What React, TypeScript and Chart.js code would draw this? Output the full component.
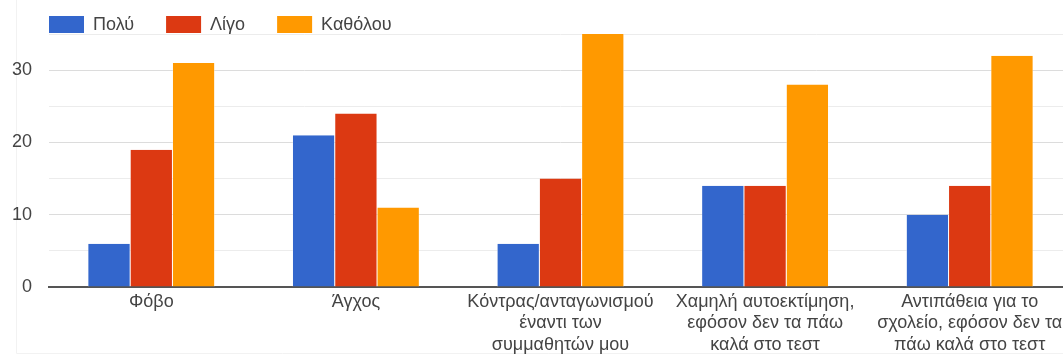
import React, { useEffect, useRef } from "react";
import { Chart, registerables } from "chart.js";

Chart.register(...registerables);

const categories: string[][] = [
  ["Φόβο"],
  ["Άγχος"],
  ["Κόντρας/ανταγωνισμού", "έναντι των", "συμμαθητών μου"],
  ["Χαμηλή αυτοεκτίμηση,", "εφόσον δεν τα πάω", "καλά στο τεστ"],
  ["Αντιπάθεια για το", "σχολείο, εφόσον δεν τα", "πάω καλά στο τεστ"],
];
const seriesNames = ["Πολύ", "Λίγο", "Καθόλου"];
const poly = [6, 21, 6, 14, 10];
const ligo = [19, 24, 15, 14, 14];
const katholou = [31, 11, 35, 28, 32];
const seriesColors = ["#3366cc", "#dc3912", "#ff9900"];
const yTicksMax = 35;
const yStep = 5;

const FONT = "'Liberation Sans', Arial, sans-serif";

const borderPlugin = {
  id: "cardBorder",
  beforeDraw(chart: any) {
    const ctx = chart.ctx;
    ctx.save();
    ctx.strokeStyle = "#f2f2f2";
    ctx.lineWidth = 1;
    ctx.beginPath();
    ctx.moveTo(16.5, 0);
    ctx.lineTo(16.5, 353.5);
    ctx.lineTo(1080, 353.5);
    ctx.stroke();
    ctx.restore();
  },
};

const legendPlugin = {
  id: "customLegend",
  afterDraw(chart: any) {
    const ctx = chart.ctx;
    ctx.save();
    let x = 49;
    const y = 16;
    ctx.font = `18px ${FONT}`;
    ctx.textBaseline = "middle";
    ctx.textAlign = "left";
    chart.data.datasets.forEach((ds: any) => {
      ctx.fillStyle = ds.backgroundColor;
      ctx.fillRect(x, y, 35, 17);
      ctx.fillStyle = "#444";
      const tx = x + 44;
      ctx.fillText(ds.label, tx, y + 9);
      x = tx + ctx.measureText(ds.label).width + 32;
    });
    ctx.restore();
  },
};

export default function App() {
  const ref = useRef<HTMLCanvasElement>(null);
  useEffect(() => {
    if (!ref.current) return;
    const values = [poly, ligo, katholou];
    const chart = new Chart(ref.current, {
      type: "bar",
      data: {
        labels: categories,
        datasets: seriesNames.map((name, i) => ({
          label: name,
          data: values[i],
          backgroundColor: seriesColors[i],
          borderColor: "#ffffff",
          borderWidth: { left: 0.5, right: 0.5, top: 0, bottom: 0 },
          borderSkipped: false,
          categoryPercentage: 0.62,
          barPercentage: 1,
        })),
      },
      options: {
        responsive: false,
        animation: false,
        layout: { padding: { top: 34, right: 8, left: 0, bottom: 0 } },
        plugins: { legend: { display: false }, tooltip: { enabled: false } },
        scales: {
          x: {
            grid: { display: false, drawTicks: false },
            border: { display: true, color: "#555", width: 2 },
            ticks: {
              color: "#444",
              font: { family: FONT, size: 18, lineHeight: 1.2 },
              padding: 4,
              maxRotation: 0,
              autoSkip: false,
            },
            afterFit: (s: any) => {
              s.height = 71;
            },
          },
          y: {
            min: 0,
            max: yTicksMax,
            grid: {
              drawTicks: false,
              color: (c: any) =>
                c.tick.value === 0
                  ? "rgba(0,0,0,0)"
                  : c.tick.value % 10 === 0
                  ? "#dcdcdc"
                  : "#ececec",
            },
            border: { display: false },
            ticks: {
              stepSize: yStep,
              color: "#444",
              padding: 17,
              font: { family: FONT, size: 18 },
              callback: (v: any) => (Number(v) % 10 === 0 ? String(v) : ""),
            },
            afterFit: (s: any) => {
              s.width = 49;
            },
          },
        },
      },
      plugins: [borderPlugin, legendPlugin],
    });
    return () => chart.destroy();
  }, []);
  return (
    <div
      style={{
        position: "fixed",
        left: 0,
        top: 0,
        width: 1063,
        height: 358,
        overflow: "hidden",
        background: "#fff",
      }}
    >
      <canvas ref={ref} width={1080} height={358} style={{ display: "block" }} />
    </div>
  );
}
